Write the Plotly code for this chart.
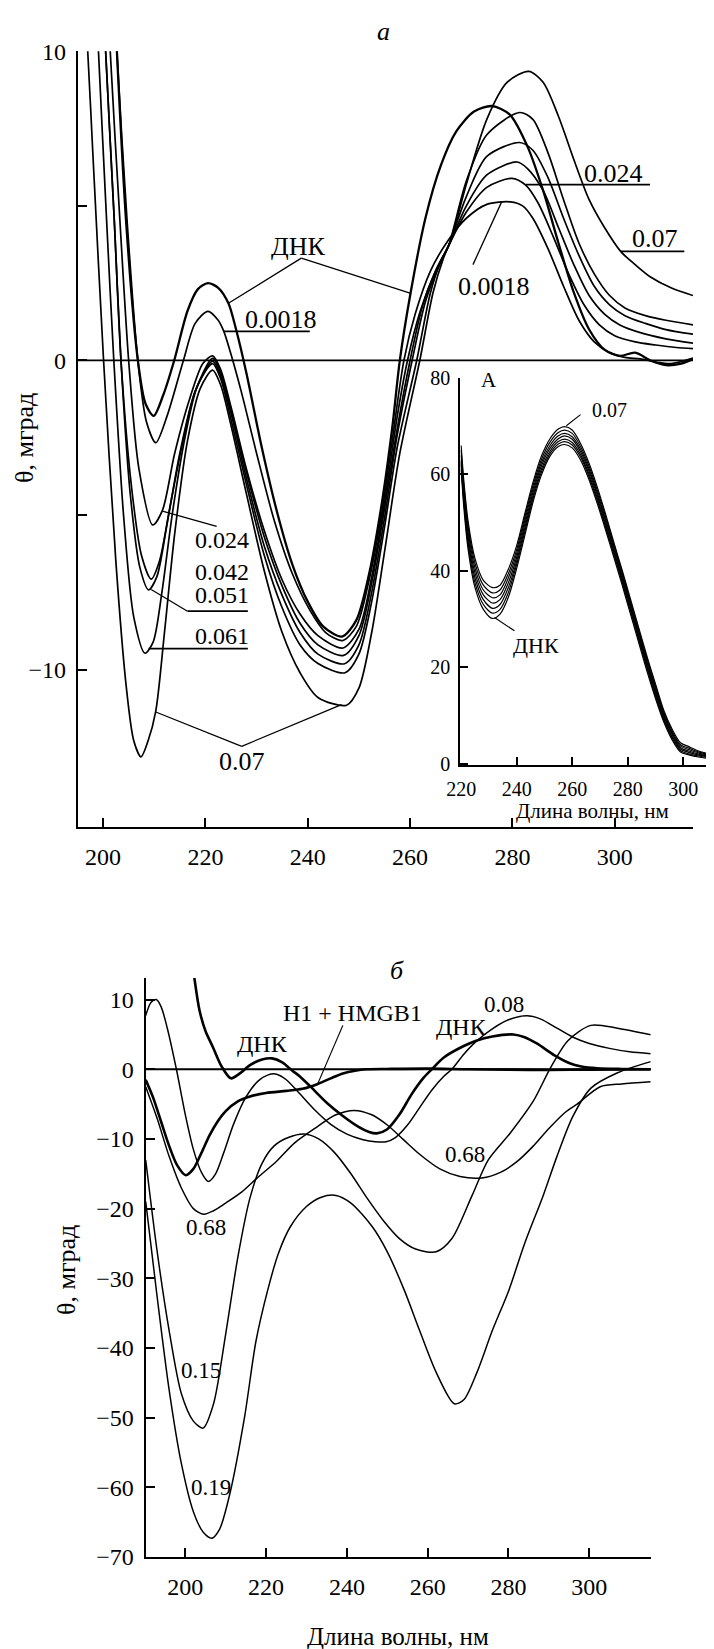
import plotly.graph_objects as go

FONT = "Liberation Serif"

# ---------------- Panel a: CD spectra (θ, mdeg) ----------------
A_DNA_X = [201.9, 202.7, 204.5, 206.8, 208.3, 209.9, 211.8, 213.9, 216.5, 218.5, 220.5, 222.5, 224.5, 226, 228, 231, 234, 237, 240, 243, 246.7, 249.5, 252, 254.5, 256.5, 258, 260.1, 263, 266, 269, 272.5, 276, 279.5, 283, 286, 289, 292, 295, 298, 301, 304, 307, 310, 313, 315.3]
A_DNA_Y = [13, 10, 4.5, 0, -1.4, -1.79, -1.1, 0, 1.6, 2.3, 2.5, 2.35, 1.85, 1.0, -0.4, -2.8, -4.9, -6.6, -7.8, -8.6, -8.93, -8.4, -6.9, -4.6, -2.2, 0, 2.18, 4.6, 6.3, 7.4, 8.05, 8.23, 7.95, 6.9, 5.5, 3.8, 2.2, 1.0, 0.35, 0.15, 0.25, 0.0, -0.15, -0.1, 0.05]

A_0018_X = [201.9, 202.7, 204.7, 206.8, 208.5, 210.3, 212.5, 215.7, 218, 220.5, 222.5, 223.6, 225, 227, 230, 233.5, 237, 240.5, 243.5, 246.8, 249.5, 252, 254.5, 256.5, 258.8, 261, 264, 267.5, 271, 275, 279.6, 282, 284, 287, 290, 293, 296, 299, 302, 305, 308, 311, 315.3]
A_0018_Y = [13, 10, 4.5, 0, -2.0, -2.66, -1.8, 0, 1.2, 1.59, 1.3, 0.94, 0.2, -1.0, -3.0, -5.2, -6.9, -8.1, -8.8, -9.06, -8.6, -7.1, -4.9, -2.6, 0, 1.5, 2.9, 3.9, 4.6, 5.05, 5.13, 5.0, 4.6, 3.6, 2.4, 1.3, 0.6, 0.25, 0.1, 0.05, -0.05, -0.1, 0.08]

A_024_X = [200.6, 201.4, 203.3, 205.0, 207, 209.7, 211.6, 214, 217, 219.5, 221.4, 223, 225, 228, 231.5, 235, 238.5, 242, 246.9, 250, 252.5, 255, 257.5, 259.5, 262, 265, 267.5, 271, 275, 279.9, 282.6, 285, 288, 291, 294, 297, 300, 304, 308, 312, 315.3]
A_024_Y = [13, 10, 4.5, 0, -3.5, -5.32, -4.85, -3.0, -1.2, -0.1, 0.15, -0.3, -1.5, -3.5, -5.5, -7.1, -8.2, -8.9, -9.3, -8.7, -7.0, -4.6, -1.8, 0, 1.6, 2.9, 3.7, 4.8, 5.6, 5.89, 5.67, 5.1, 4.0, 2.8, 1.8, 1.15, 0.8, 0.6, 0.5, 0.42, 0.38]

A_042_X = [199.7, 200.5, 202.2, 203.5, 205.5, 207.5, 209.4, 211, 213, 215.5, 218, 221.4, 223, 225, 228, 231.5, 235, 238.5, 242, 247, 250, 252.5, 255, 257.5, 260, 262.5, 265, 267.5, 271, 275, 280.9, 283, 286, 289, 292, 295, 298, 301, 305, 310, 315.3]
A_042_Y = [13, 10, 4.5, 0, -4, -6.3, -7.07, -6.5, -4.8, -2.7, -1.0, 0.07, -0.4, -1.6, -3.6, -5.7, -7.3, -8.5, -9.2, -9.54, -8.9, -7.2, -4.8, -2.2, 0, 1.8, 2.9, 3.7, 5.0, 6.0, 6.42, 6.2, 5.5, 4.3, 3.1, 2.1, 1.5, 1.15, 0.9, 0.7, 0.56]

A_051_X = [199.7, 200.5, 202.2, 203.5, 205.3, 207.2, 208.9, 210.5, 212.5, 215, 218, 221.4, 223, 225, 228, 231.5, 235, 238.5, 242, 247.2, 250, 252.5, 255, 257.5, 260.4, 263, 265.5, 267.5, 271, 275, 281.4, 284, 287, 290, 293, 296, 299, 302, 306, 310, 315.3]
A_051_Y = [13, 10, 4.5, 0, -4.3, -6.7, -7.42, -7.0, -5.3, -3.0, -1.0, -0.02, -0.5, -1.7, -3.8, -6.0, -7.6, -8.8, -9.5, -9.81, -9.2, -7.5, -5.1, -2.4, 0, 1.9, 3.0, 3.7, 5.3, 6.6, 7.05, 6.8, 5.9, 4.6, 3.4, 2.4, 1.8, 1.45, 1.2, 1.0, 0.85]

A_061_X = [198.3, 199.1, 200.7, 202.1, 204, 206, 208.2, 209.8, 211.5, 213.5, 216, 218.5, 221.4, 223, 225, 228, 231.5, 235, 238.5, 242, 247.3, 250, 252.5, 255, 257.5, 261.3, 264, 266, 267.5, 271, 275, 281.4, 284, 287, 290, 293, 296, 299, 302, 306, 310, 315.3]
A_061_Y = [13, 10, 4.5, 0, -5, -8.3, -9.47, -9.1, -7.5, -5.0, -2.5, -0.8, -0.1, -0.6, -1.9, -4.0, -6.3, -8.0, -9.2, -9.8, -10.1, -9.5, -7.8, -5.4, -2.8, 0, 2.2, 3.2, 3.7, 5.8, 7.3, 8.02, 7.8, 6.7, 5.2, 3.8, 2.8, 2.1, 1.7, 1.45, 1.3, 1.15]

A_07_X = [195.8, 197.0, 198.0, 200.1, 202.5, 204.5, 206, 207.4, 208.8, 210.3, 212, 214, 216.5, 219, 221.4, 223, 225, 228, 231.5, 235, 238.5, 242, 247.6, 250, 252.5, 255, 258, 261.9, 264.5, 266.5, 268, 271, 275, 279, 283.2, 286, 289, 292, 295, 298, 301.2, 304, 307, 311, 315.3]
A_07_Y = [13, 10, 6.7, 0, -6.5, -10.5, -12.3, -12.82, -12.3, -11.34, -8.8, -5.6, -2.6, -0.9, -0.31, -0.8, -2.1, -4.3, -6.8, -8.8, -10.1, -10.9, -11.15, -10.6, -8.8, -6.2, -3.0, 0, 2.2, 3.3, 3.9, 5.7, 7.8, 9.0, 9.35, 9.0, 7.9, 6.5, 5.2, 4.3, 3.52, 3.1, 2.7, 2.35, 2.1]

# ---------------- Inset A: absorbance ----------------
INSET_WL = [220, 221, 222.5, 225, 228, 231.3, 234, 237, 240, 243, 246, 249, 252, 255, 257.3, 260, 263, 266, 269, 272, 275, 278, 281, 284, 287, 290, 293, 296, 299, 302, 306, 310, 314]
INSET_DNA = [61, 53, 44.5, 36.5, 32, 30.1, 31.0, 34.5, 40.5, 47.5, 54.5, 60.0, 63.8, 65.8, 66.2, 65.5, 63.0, 59.0, 54.0, 48.5, 42.8, 37.0, 31.0, 25.0, 19.0, 13.5, 8.6, 4.9, 2.4, 1.8, 1.3, 1.0, 0.9]
INSET_0018 = [62, 54, 45.5, 37.5, 33, 31.2, 32.0, 35.5, 41.3, 48.3, 55.2, 60.6, 64.3, 66.3, 66.8, 66.1, 63.6, 59.6, 54.6, 49.1, 43.4, 37.6, 31.6, 25.6, 19.6, 14.0, 9.0, 5.3, 2.7, 2.0, 1.5, 1.2, 1.05]
INSET_024 = [62.5, 54.5, 46.3, 38.5, 34, 32.2, 33.0, 36.5, 42.0, 49.0, 55.8, 61.2, 64.8, 66.8, 67.3, 66.6, 64.1, 60.1, 55.1, 49.6, 43.9, 38.1, 32.1, 26.1, 20.1, 14.5, 9.4, 5.6, 3.0, 2.3, 1.7, 1.35, 1.2]
INSET_042 = [63, 55.5, 47.3, 39.5, 35, 33.3, 34.0, 37.5, 42.8, 49.8, 56.5, 61.9, 65.4, 67.4, 68.0, 67.3, 64.7, 60.7, 55.7, 50.2, 44.4, 38.6, 32.6, 26.6, 20.6, 15.0, 9.8, 6.0, 3.3, 2.6, 1.9, 1.5, 1.35]
INSET_051 = [64, 56.5, 48.3, 40.5, 36, 34.4, 35.0, 38.5, 43.6, 50.6, 57.2, 62.5, 66.0, 68.0, 68.5, 67.8, 65.2, 61.2, 56.2, 50.7, 44.9, 39.1, 33.1, 27.1, 21.1, 15.5, 10.2, 6.3, 3.6, 2.9, 2.1, 1.65, 1.5]
INSET_061 = [65, 57.5, 49.3, 41.5, 37, 35.4, 36.0, 39.4, 44.4, 51.3, 57.9, 63.2, 66.7, 68.7, 69.2, 68.5, 65.8, 61.8, 56.8, 51.3, 45.4, 39.6, 33.6, 27.6, 21.6, 16.0, 10.6, 6.7, 3.9, 3.2, 2.3, 1.8, 1.65]
INSET_07 = [66, 58.5, 50.3, 42.5, 38, 36.5, 37.0, 40.3, 45.2, 52.0, 58.6, 63.9, 67.4, 69.4, 69.9, 69.2, 66.4, 62.4, 57.4, 51.8, 45.9, 40.1, 34.1, 28.1, 22.1, 16.5, 11.0, 7.1, 4.3, 3.5, 2.5, 2.0, 1.85]

# ---------------- Panel б ----------------
B_DNA_X = [201.6, 202.3, 203.5, 205, 206.9, 209, 211.3, 213.5, 216, 219, 221.5, 224, 226.5, 228.3, 231, 235, 239, 243, 245.5, 247.4, 250, 253, 256, 259, 261, 264, 268.8, 272, 276, 281.2, 284, 287, 291.4, 295, 298, 302, 308, 315.2]
B_DNA_Y = [16, 12.9, 8.5, 5.5, 3.1, 0.4, -1.3, -0.6, 0.6, 1.4, 1.56, 1.0, -0.2, -1.0, -2.5, -4.8, -6.7, -8.3, -9.0, -9.2, -8.6, -6.5, -3.6, -1.2, 0, 1.7, 3.3, 4.1, 4.7, 5.0, 4.6, 3.7, 2.0, 0.9, 0.4, 0.15, 0.05, 0]

B_008_X = [190.2, 191.5, 192.8, 194, 195.5, 197.8, 200, 202, 204, 205.7, 207.5, 209.5, 212, 215, 218, 220.5, 222.6, 225, 228, 232, 236, 240, 244, 247, 249.7, 252, 255, 258, 261, 264, 266, 269, 272, 276, 280, 284.6, 288, 292, 296, 300, 305, 310, 315.2]
B_008_Y = [7.7, 9.6, 10.0, 9.0, 6.0, 0, -6.5, -11.5, -14.8, -16.1, -15.0, -12.0, -7.8, -4.0, -1.7, -0.8, -0.7, -1.5, -3.3, -5.8, -7.9, -9.3, -10.1, -10.4, -10.4, -9.8, -8.0, -5.5, -3.0, -1.0, 0, 2.2, 4.0, 5.8, 7.1, 7.67, 7.2, 5.9, 4.6, 3.7, 3.0, 2.5, 2.24]

B_H1_X = [190.2, 192, 194, 196, 198, 200.1, 202, 204, 206, 208, 210, 213, 216, 220, 225, 229, 232.8, 236, 239, 242, 245, 250, 260, 270, 280, 290, 300, 315.2]
B_H1_Y = [-1.5, -4.0, -7.5, -11.0, -13.8, -15.2, -14.3, -12.0, -9.5, -7.5, -6.0, -4.6, -3.9, -3.4, -3.1, -2.8, -2.1, -1.3, -0.6, -0.2, 0, 0.05, 0.1, 0.0, -0.05, -0.1, -0.05, 0]

B_068_X = [190.2, 193, 196, 199, 202, 204.6, 207, 210, 214, 218, 222.6, 227, 232.8, 237, 241.8, 246, 250, 254, 258, 263, 268, 273.4, 278, 282, 286, 290, 294, 297, 302.7, 308, 315.2]
B_068_Y = [-2.5, -7.0, -12.5, -17.0, -20.0, -20.8, -20.3, -19.2, -17.6, -15.5, -13.2, -10.6, -8.2, -6.6, -5.9, -6.5, -8.0, -10.1, -12.2, -14.3, -15.4, -15.6, -14.8, -13.3, -11.1, -8.5, -6.2, -5.0, -2.5, -2.1, -1.8]

B_015_X = [190.2, 193, 196, 199, 202, 204.4, 207, 210, 213, 216, 219, 222, 225.5, 229.4, 233, 237, 241, 245, 249, 253, 257, 262.1, 266, 271, 275, 280.5, 286.2, 290.2, 294.7, 300.4, 307, 315.2]
B_015_Y = [-13, -26, -37.5, -46.5, -50.5, -51.5, -48, -38, -27, -18.5, -13.5, -11, -9.8, -9.3, -10, -12, -15, -18.5, -21.7, -24.3, -25.8, -26.2, -24.3, -18.1, -13, -9.1, -4.5, 0, 4.1, 6.3, 5.9, 4.96]

B_019_X = [190.2, 193, 196, 199, 202, 204.5, 206.6, 208.5, 211, 214.7, 217.5, 220.4, 223, 226, 230, 233.5, 237.3, 241, 246.3, 250, 254.2, 258, 262.1, 266.6, 269, 272.2, 276, 280.1, 284, 288.6, 292, 295.9, 300.4, 307, 315.2]
B_019_Y = [-19, -32.5, -46, -56.5, -63.5, -66.5, -67.3, -66, -61, -49.8, -39, -31.7, -26.5, -22.6, -19.7, -18.4, -18.1, -19.2, -22.6, -26.2, -31.7, -37.5, -43.5, -48.0, -47.4, -43.5, -37.5, -31.7, -25, -18.1, -12.5, -6.8, -2.7, -0.5, 1.1]

# tick labels
A_YTICKS = [-10, -5, 0, 5, 10]
A_YTEXT = ["\u221210", "", "0", "", "10"]
WL_TICKS = [200, 220, 240, 260, 280, 300]
INSET_XTICKS = [220, 240, 260, 280, 300]
INSET_YTICKS = [0, 20, 40, 60, 80]
B_YTICKS = [-70, -60, -50, -40, -30, -20, -10, 0, 10]
B_YTEXT = ["\u221270", "\u221260", "\u221250", "\u221240", "\u221230", "\u221220", "\u221210", "0", "10"]

W, H = 714, 1649
fig = go.Figure()


def add_curve(x, y, xa, ya, width=1.5):
    assert len(x) == len(y)
    fig.add_trace(go.Scatter(x=x, y=y, mode="lines", xaxis=xa, yaxis=ya,
                             line=dict(color="black", width=width, shape="spline", smoothing=0.8),
                             showlegend=False, hoverinfo="skip"))


for xs, ys, w in [(A_DNA_X, A_DNA_Y, 2.3), (A_0018_X, A_0018_Y, 1.7), (A_024_X, A_024_Y, 1.7),
                  (A_042_X, A_042_Y, 1.7), (A_051_X, A_051_Y, 1.7), (A_061_X, A_061_Y, 1.7),
                  (A_07_X, A_07_Y, 1.7)]:
    add_curve(xs, ys, "x", "y", w)

for ys in [INSET_DNA, INSET_0018, INSET_024, INSET_042, INSET_051, INSET_061, INSET_07]:
    add_curve(INSET_WL, ys, "x2", "y2", 1.2)

for xs, ys, w in [(B_DNA_X, B_DNA_Y, 2.6), (B_008_X, B_008_Y, 1.5), (B_H1_X, B_H1_Y, 2.6),
                  (B_068_X, B_068_Y, 1.5), (B_015_X, B_015_Y, 1.5), (B_019_X, B_019_Y, 1.5)]:
    add_curve(xs, ys, "x3", "y3", w)


def axis_style(size, **kw):
    d = dict(showline=True, linewidth=2.2, linecolor="black", ticks="inside", ticklen=9,
             tickwidth=1.8, tickcolor="black", showgrid=False, zeroline=False, automargin=False,
             tickfont=dict(family=FONT, size=size, color="black"), fixedrange=True)
    d.update(kw)
    return d


B_BOTTOM = 1549  # pixel row of panel b x axis
fig.update_layout(
    width=W, height=H, margin=dict(l=0, r=0, t=0, b=0, pad=0, autoexpand=False), autosize=False,
    paper_bgcolor="white", plot_bgcolor="rgba(0,0,0,0)",
    xaxis=axis_style(24, domain=[70 / W, 685 / W], range=[195.1, 315.3], anchor="y",
                     tickvals=WL_TICKS, ticklabelstandoff=7),
    yaxis=axis_style(24, domain=[1 - 819.3 / H, 1 - 43.3 / H], range=[-15.1, 10], anchor="x",
                     tickvals=A_YTICKS, ticktext=A_YTEXT, ticklabelstandoff=5),
    xaxis2=axis_style(20, domain=[452.3 / W, 1.0], range=[219.7, 313.95], anchor="y2",
                      tickvals=INSET_XTICKS, ticklen=8, ticklabelstandoff=5),
    yaxis2=axis_style(20, domain=[1 - 756.7 / H, 1 - 370 / H], range=[-0.25, 80], anchor="x2",
                      tickvals=INSET_YTICKS, ticklen=8, ticklabelstandoff=4),
    xaxis3=axis_style(24, domain=[137.7 / W, 642.7 / W], range=[190.2, 315.2], anchor="y3",
                      tickvals=WL_TICKS, ticklabelstandoff=7),
    yaxis3=axis_style(24, domain=[1 - B_BOTTOM / H, 1 - 970 / H], range=[-70, 13.1], anchor="x3",
                      tickvals=B_YTICKS, ticktext=B_YTEXT, ticklabelstandoff=5),
)

shapes = []


def seg(xr, yr, x0, y0, x1, y1, w=1.3):
    shapes.append(dict(type="line", xref=xr, yref=yr, x0=x0, y0=y0, x1=x1, y1=y1,
                       line=dict(color="black", width=w)))


# zero lines
shapes.append(dict(type="line", xref="x domain", yref="y", x0=0, x1=1, y0=0, y1=0,
                   line=dict(color="black", width=1.8)))
shapes.append(dict(type="line", xref="x3 domain", yref="y3", x0=0, x1=1, y0=0, y1=0,
                   line=dict(color="black", width=1.8)))

# panel a leaders / underlines
seg("x", "y", 238.75, 3.31, 224.5, 1.85)
seg("x", "y", 238.75, 3.31, 260.0, 2.18)
seg("x", "y", 223.6, 0.94, 240.4, 0.94, 1.8)
seg("x", "y", 282.6, 5.69, 306.9, 5.69, 1.8)
seg("x", "y", 301.2, 3.53, 313.6, 3.53, 1.8)
seg("x", "y", 272.3, 3.10, 277.9, 5.13)
seg("x", "y", 211.6, -4.87, 222.2, -5.37)
seg("x", "y", 209.4, -7.41, 216.5, -8.11)
seg("x", "y", 216.5, -8.11, 228.3, -8.11, 1.8)
seg("x", "y", 208.9, -9.32, 228.3, -9.32, 1.8)
seg("x", "y", 210.3, -11.37, 227.1, -12.48)
seg("x", "y", 227.1, -12.48, 246.6, -11.13)
# inset leaders
seg("x2", "y2", 263.0, 72.4, 257.9, 70.1, 1.1)
seg("x2", "y2", 239.2, 27.55, 232.0, 30.3, 1.1)
# panel b leader
seg("x3", "y3", 239.0, 6.3, 232.8, -2.06, 1.2)

fig.update_layout(shapes=shapes)

ann = []


def txt(xr, yr, x, y, s, size, italic=False, angle=0, xanchor="center"):
    t = "<i>" + s + "</i>" if italic else s
    ann.append(dict(xref=xr, yref=yr, x=x, y=y, text=t, showarrow=False, textangle=angle,
                    xanchor=xanchor, yanchor="middle",
                    font=dict(family=FONT, size=size, color="black")))


# panel a labels
txt("x", "y", 238.2, 3.70, "ДНК", 26)
txt("x", "y", 234.7, 1.32, "0.0018", 26)
txt("x", "y", 299.8, 6.06, "0.024", 26)
txt("x", "y", 307.8, 3.96, "0.07", 26)
txt("x", "y", 276.4, 2.40, "0.0018", 26)
txt("x", "y", 223.2, -5.82, "0.024", 24)
txt("x", "y", 223.2, -6.85, "0.042", 24)
txt("x", "y", 223.2, -7.6, "0.051", 24)
txt("x", "y", 223.2, -8.92, "0.061", 24)
txt("x", "y", 227.1, -12.96, "0.07", 26)
# inset labels
txt("x2", "y2", 229.9, 79.6, "А", 21)
txt("x2", "y2", 273.5, 73.3, "0.07", 20)
txt("x2", "y2", 246.8, 24.4, "ДНК", 22)
# panel b labels
txt("x3", "y3", 219.2, 3.6, "ДНК", 24)
txt("x3", "y3", 241.4, 8.1, "H1 + HMGB1", 24)
txt("x3", "y3", 268.3, 6.1, "ДНК", 24)
txt("x3", "y3", 279.0, 9.3, "0.08", 23)
txt("x3", "y3", 269.2, -12.25, "0.68", 23)
txt("x3", "y3", 205.2, -22.65, "0.68", 23)
txt("x3", "y3", 204.0, -43.3, "0.15", 23)
txt("x3", "y3", 206.3, -60.0, "0.19", 23)
# titles
txt("paper", "paper", 375.7 / W, 1 - 23.3 / H, "а", 26, italic=True)
txt("paper", "paper", 389.3 / W, 1 - 962.7 / H, "б", 26, italic=True)
txt("paper", "paper", 17 / W, 1 - 430 / H, "θ, мград", 26, angle=-90)
txt("paper", "paper", 58 / W, 1 - 1262 / H, "θ, мград", 26, angle=-90)
txt("paper", "paper", 390 / W, 1 - 1628 / H, "Длина волны, нм", 25)
txt("paper", "paper", 584 / W, 1 - 802.7 / H, "Длина волны, нм", 21)

fig.update_layout(annotations=ann)
fig.write_html("out.html")
